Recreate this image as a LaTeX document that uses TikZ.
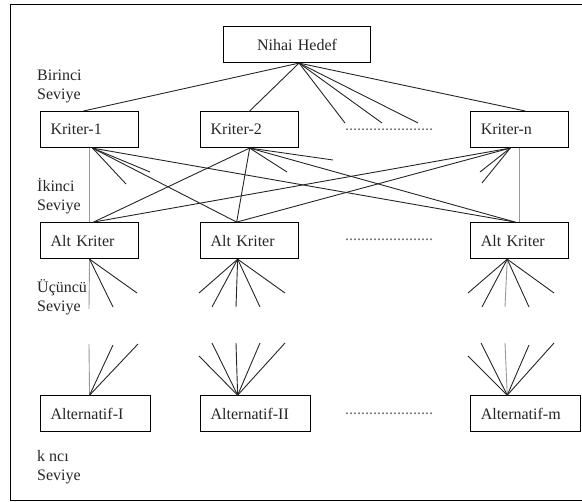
\documentclass[tikz,border=0pt]{standalone}
\usepackage{fontspec}
\setmainfont{Liberation Serif}
\usetikzlibrary{positioning}

\begin{document}
\begin{tikzpicture}
[x=1pt, y=-1pt,
font=\fontsize{16}{19}\selectfont,
boxnode/.style={rectangle, draw=black, line width=1.1pt, minimum height=36pt, text width=78pt, inner xsep=10pt, inner ysep=0pt, align=left, text=black!85},
widenode/.style={boxnode, text width=90pt},
levelnode/.style={anchor=west, align=left, inner sep=0pt, text=black!85},
dotsnode/.style={anchor=base west, inner sep=0pt, text=black!60},
link/.style={line width=0.9pt, draw=black!85},
glink/.style={line width=0.9pt, draw=black!40},
]
\useasboundingbox (0,0) rectangle (582,502);
\draw[line width=1.3pt] (590,4.5) -- (10.5,4.5) -- (10.5,500.5) -- (590,500.5);

\node[boxnode, text width=127pt, align=center, anchor=north west] (goal) at (223,26) {Nihai Hedef};
\node[boxnode, anchor=north west] (k1) at (40,111) {Kriter-1};
\node[boxnode] (k2) [right=61pt of k1] {Kriter-2};
\node[boxnode] (kn) [right=171pt of k2] {Kriter-n};
\node[boxnode] (a1) [below=74pt of k1] {Alt Kriter};
\node[boxnode] (a2) [below=74pt of k2] {Alt Kriter};
\node[boxnode] (an) [below=74pt of kn] {Alt Kriter};
\node[widenode] (x1) [below=136pt of a1.south west, anchor=north west] {Alternatif-I};
\node[widenode] (x2) [below=136pt of a2.south west, anchor=north west] {Alternatif-II};
\node[widenode] (xm) [below=136pt of an.south west, anchor=north west] {Alternatif-m};

\node[levelnode] (lv1) at (37,86) {Birinci\\Seviye};
\node[levelnode] (lv2) at (37,196) {İkinci\\Seviye};
\node[levelnode] (lv3) at (37,297) {Üçüncü\\Seviye};
\node[levelnode] (lvk) at (37,467) {k ncı\\Seviye};

\node[dotsnode] (d1) at (345,131) {......................};
\node[dotsnode] (d2) at (345,241) {......................};
\node[dotsnode] (d3) at (345,415) {......................};

% birinci seviye
\coordinate (g0) at ([xshift=2pt]goal.south);
\draw[link] (g0) -- ([xshift=-6pt]k1.north);
\draw[link] (g0) -- (k2.north);
\draw[link] (g0) -- ([xshift=5.5pt]kn.north);
\foreach \e [count=\i] in {345,382,418}
  {\coordinate (g\i) at (\e,123); \draw[link] (g0) -- (g\i);}

% ikinci seviye
\coordinate (k1b) at ([xshift=3pt]k1.south);
\coordinate (k2b) at (k2.south);
\coordinate (knb) at ([xshift=-9.5pt]kn.south);
\coordinate (a1t) at ([xshift=4pt]a1.north);
\coordinate (a2t) at ([xshift=-13pt]a2.north);
\coordinate (ant) at ([xshift=-4.5pt]an.north);

\draw[glink] (k1.south) -- (a1.north);
\draw[link] (k1b) -- (a2t);
\draw[link] (k1b) -- (ant);
\draw[link] (k2b) -- (a1t);
\draw[link] (k2b) -- (a2t);
\draw[link] (k2b) -- (ant);
\draw[link] (knb) -- (a1t);
\draw[link] (knb) -- (a2t);
\draw[glink] (kn.south) -- (an.north);
\foreach \p/\q [count=\i] in {126/184, 150/172}
  {\coordinate (s1\i) at (\p,\q); \draw[link] (k1b) -- (s1\i);}
\foreach \p/\q [count=\i] in {287/172, 333/160}
  {\coordinate (s2\i) at (\p,\q); \draw[link] (k2b) -- (s2\i);}
\foreach \p/\q [count=\i] in {480/172, 482/183}
  {\coordinate (sn\i) at (\p,\q); \draw[link] (knb) -- (sn\i);}

% ucuncu seviye
\coordinate (a1b) at (a1.south);
\coordinate (a2b) at ([xshift=-12pt]a2.south);
\coordinate (anb) at ([xshift=-12.5pt]an.south);
\coordinate (x1t) at ([xshift=-6pt]x1.north);
\coordinate (x2t) at ([xshift=-18pt]x2.north);
\coordinate (xmt) at ([xshift=-18.5pt]xm.north);

\coordinate (u10) at (89,309); \draw[glink] (a1b) -- (u10);
\foreach \p/\q [count=\i] in {113/307, 137/293}
  {\coordinate (u1\i) at (\p,\q); \draw[link] (a1b) -- (u1\i);}
\foreach \p/\q [count=\i] in {199/293, 212/307, 236/307, 260/307, 285/293}
  {\coordinate (u2\i) at (\p,\q); \draw[link] (a2b) -- (u2\i);}
\coordinate (un0) at (505,307); \draw[glink] (anb) -- (un0);
\foreach \p/\q [count=\i] in {468/293, 482/307, 529/307, 554/293}
  {\coordinate (un\i) at (\p,\q); \draw[link] (anb) -- (un\i);}

\coordinate (v10) at (89,344); \draw[glink] (x1t) -- (v10);
\foreach \p/\q [count=\i] in {113/345, 138/344}
  {\coordinate (v1\i) at (\p,\q); \draw[link] (x1t) -- (v1\i);}
\foreach \p/\q [count=\i] in {199/356, 212/343, 236/343, 260/343, 285/343}
  {\coordinate (v2\i) at (\p,\q); \draw[link] (x2t) -- (v2\i);}
\coordinate (vm0) at (505,343); \draw[glink] (xmt) -- (vm0);
\foreach \p/\q [count=\i] in {468/356, 481/343, 529/345, 554/343}
  {\coordinate (vm\i) at (\p,\q); \draw[link] (xmt) -- (vm\i);}
\end{tikzpicture}
\end{document}
